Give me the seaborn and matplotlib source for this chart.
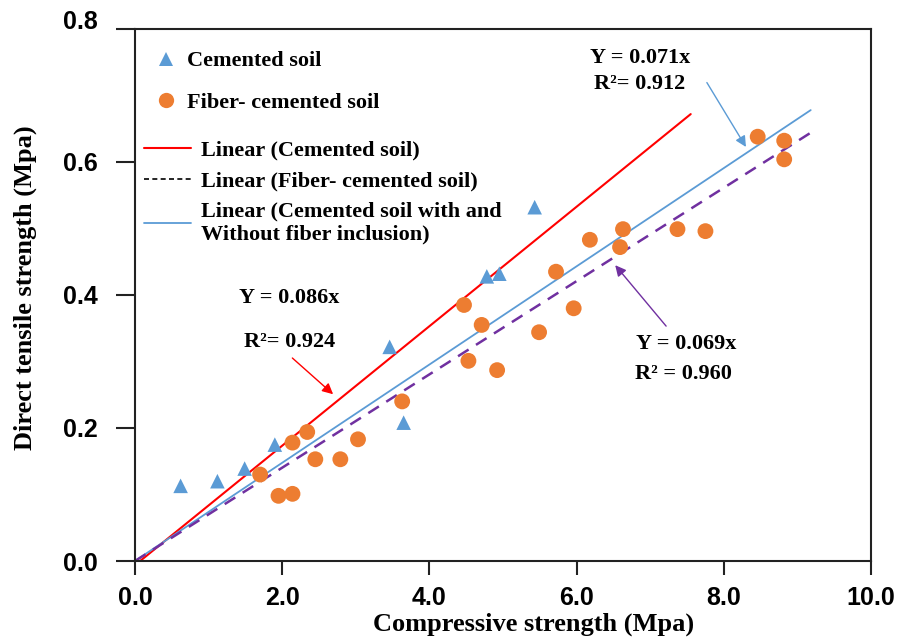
import matplotlib
matplotlib.use("Agg")
import matplotlib.pyplot as plt
from matplotlib.lines import Line2D
import seaborn as sns
import pandas as pd

# ---- data ----
cem_x = [0.62, 1.12, 1.49, 1.90, 3.46, 3.65, 4.78, 4.95, 5.43]
cem_y = [0.113, 0.120, 0.139, 0.175, 0.322, 0.208, 0.428, 0.432, 0.532]

fib_x = [1.70, 1.95, 2.14, 2.14, 2.34, 2.45, 2.79, 3.03, 3.63, 4.47, 4.53, 4.71,
         4.92, 5.49, 5.72, 5.96, 6.18, 6.59, 6.63, 7.37, 7.75, 8.46, 8.82, 8.82]
fib_y = [0.130, 0.098, 0.101, 0.178, 0.194, 0.153, 0.153, 0.183, 0.240, 0.385, 0.301, 0.355,
         0.287, 0.344, 0.435, 0.380, 0.483, 0.472, 0.499, 0.499, 0.496, 0.638, 0.632, 0.604]

# fitted trend lines (end points)
red_x = [0.07, 7.55]
red_y = [0.0, 0.672]
blue_x = [0.0, 9.18]
blue_y = [0.0, 0.678]
purple_x = [0.0, 9.18]
purple_y = [0.0, 0.644]

x_ticks = [0, 2, 4, 6, 8, 10]
x_ticklabels = ["0.0", "2.0", "4.0", "6.0", "8.0", "10.0"]
y_ticks = [0.0, 0.2, 0.4, 0.6, 0.8]
y_ticklabels = ["0.0", "0.2", "0.4", "0.6", "0.8"]

C_BLUE = "#5B9BD5"
C_ORANGE = "#ED7D31"
C_RED = "#FF0000"
C_PURPLE = "#7030A0"

sns.set_style("ticks")
plt.rcParams["font.family"] = ["Liberation Serif", "DejaVu Serif"]
plt.rcParams["text.color"] = "black"
plt.rcParams["axes.labelcolor"] = "black"
plt.rcParams["xtick.color"] = "black"
plt.rcParams["ytick.color"] = "black"

fig = plt.figure(figsize=(8.98, 6.41), dpi=100)
ax = fig.add_axes([0.1503, 0.1248, 0.8197, 0.830])

cem_df = pd.DataFrame({"x": cem_x, "y": cem_y})
fib_df = pd.DataFrame({"x": fib_x, "y": fib_y})

sns.lineplot(x=red_x, y=red_y, ax=ax, color=C_RED, lw=1.5, estimator=None)
sns.lineplot(x=blue_x, y=blue_y, ax=ax, color=C_BLUE, lw=1.3, estimator=None)
sns.lineplot(x=purple_x, y=purple_y, ax=ax, color=C_PURPLE, lw=1.8, estimator=None,
             linestyle=(0, (5, 3.5)))

sns.scatterplot(data=cem_df, x="x", y="y", ax=ax, marker="^", s=110, color=C_BLUE,
                edgecolor="none", zorder=4)
sns.scatterplot(data=fib_df, x="x", y="y", ax=ax, marker="o", s=130, color=C_ORANGE,
                edgecolor="none", zorder=4)

ax.set_xlim(0, 10)
ax.set_ylim(0, 0.8)
ax.set_xticks(x_ticks)
ax.set_xticklabels(x_ticklabels)
ax.set_yticks(y_ticks)
ax.set_yticklabels(y_ticklabels)
for lab in ax.get_xticklabels() + ax.get_yticklabels():
    lab.set_fontfamily(["Liberation Sans", "DejaVu Sans"])
    lab.set_fontweight("bold")
    lab.set_fontsize(18)
    lab.set_color("black")
ax.get_yticklabels()[-1].set_va("baseline")
ax.tick_params(axis="y", length=14, width=1.5, direction="out", pad=13, color="#222222")
ax.tick_params(axis="x", length=10, width=1.5, direction="out", pad=8, color="#222222")
for sp in ax.spines.values():
    sp.set_linewidth(1.5)
    sp.set_color("#222222")

ax.set_xlabel("Compressive strength (Mpa)", fontsize=19, fontweight="bold", color="black")
ax.xaxis.set_label_coords(0.542, -0.097)
ax.set_ylabel("Direct tensile strength (Mpa)", fontsize=19, fontweight="bold", color="black")
ax.yaxis.set_label_coords(-0.133, 0.513)

# annotations
tkw = dict(fontsize=16, fontweight="bold", ha="center", va="center", color="black")
ax.text(2.10, 0.396, "Y = 0.086x", **tkw)
ax.text(2.10, 0.330, "R²= 0.924", **tkw)
ax.annotate("", xy=(2.72, 0.248), xytext=(2.11, 0.308),
            arrowprops=dict(arrowstyle="-|>", color=C_RED, lw=1.0, mutation_scale=16))

ax.text(6.86, 0.757, "Y = 0.071x", **tkw)
ax.text(6.86, 0.718, "R²= 0.912", **tkw)
ax.annotate("", xy=(8.32, 0.619), xytext=(7.75, 0.723),
            arrowprops=dict(arrowstyle="-|>", color=C_BLUE, lw=1.0, mutation_scale=16))

ax.text(7.49, 0.326, "Y = 0.069x", **tkw)
ax.text(7.45, 0.281, "R² = 0.960", **tkw)
ax.annotate("", xy=(6.50, 0.448), xytext=(7.24, 0.350),
            arrowprops=dict(arrowstyle="-|>", color=C_PURPLE, lw=1.0, mutation_scale=16))

# legends
lprop = dict(family="Liberation Serif", weight="bold", size=16)
h1 = [Line2D([], [], marker="^", ls="none", color=C_BLUE, markersize=10, markeredgewidth=0),
      Line2D([], [], marker="o", ls="none", color=C_ORANGE, markersize=11, markeredgewidth=0)]
leg1 = ax.legend(h1, ["Cemented soil", "Fiber- cemented soil"], loc="upper left",
                 bbox_to_anchor=(-0.003, 0.988), frameon=False, handlelength=1.6,
                 handletextpad=0.15, labelspacing=0.95, borderaxespad=0.3, prop=lprop,
                 labelcolor="black")
ax.add_artist(leg1)
h2 = [Line2D([], [], color=C_RED, lw=1.5),
      Line2D([], [], color="black", lw=1.2, ls=(0, (3, 2))),
      Line2D([], [], color=C_BLUE, lw=1.3)]
ax.legend(h2, ["Linear (Cemented soil)", "Linear (Fiber- cemented soil)",
               "Linear (Cemented soil with and\nWithout fiber inclusion)"],
          loc="upper left", bbox_to_anchor=(-0.009, 0.82), frameon=False,
          handlelength=2.1, handletextpad=0.45, labelspacing=0.45, borderaxespad=0.3,
          prop=lprop, labelcolor="black")

fig.savefig("out.png", dpi=100)
